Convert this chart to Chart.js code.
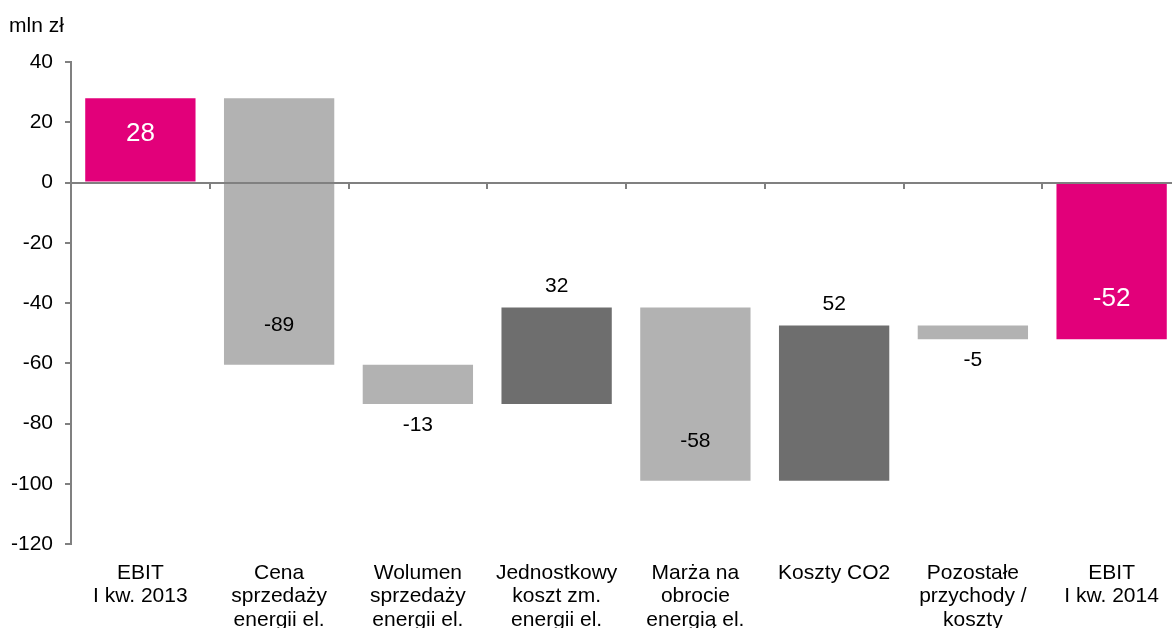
<!DOCTYPE html>
<html><head><meta charset="utf-8">
<script src="https://cdn.jsdelivr.net/npm/chart.js@4/dist/chart.umd.min.js"></script>
<style>
html,body{margin:0;padding:0;background:#fff;overflow:hidden}
#wrap{position:relative;width:1172px;height:628px;overflow:hidden}
canvas{display:block}
</style>
</head><body>
<div id="wrap"><canvas id="c" width="1181" height="628"></canvas></div>
<script>
// ---- data ----
const categories = [
  ["EBIT", "I kw. 2013"],
  ["Cena", "sprzedaży", "energii el."],
  ["Wolumen", "sprzedaży", "energii el."],
  ["Jednostkowy", "koszt zm.", "energii el."],
  ["Marża na", "obrocie", "energią el."],
  ["Koszty CO2"],
  ["Pozostałe", "przychody /", "koszty"],
  ["EBIT", "I kw. 2014"]
];
const barStart = [0, 28, -60.5, -73.5, -41.5, -99, -47.5, 0];
const barEnd   = [28, -60.5, -73.5, -41.5, -99, -47.5, -52, -52];
const valueLabels = ["28", "-89", "-13", "32", "-58", "52", "-5", "-52"];
const yTickValues = [40, 20, 0, -20, -40, -60, -80, -100, -120];
const unitLabel = "mln zł";

// ---- styles ----
const MAGENTA = "#E2007A", LIGHT = "#B2B2B2", DARK = "#6E6E6E", AXIS = "#808080";
const barColors = [MAGENTA, LIGHT, LIGHT, DARK, LIGHT, DARK, LIGHT, MAGENTA];
const labelPlacement = ["center", "insideBottom", "below", "above", "insideBottom", "above", "below", "insideBottom"];
const FONT = "'Liberation Sans', Arial, sans-serif";

const floating = barStart.map((s, i) => [s, barEnd[i]]);

const decorations = {
  id: "decorations",
  afterDatasetsDraw(chart) {
    const ctx = chart.ctx, y = chart.scales.y, ca = chart.chartArea;
    const y0 = Math.round(y.getPixelForValue(0));
    ctx.save();
    // zero line
    ctx.strokeStyle = AXIS; ctx.lineWidth = 2;
    ctx.beginPath(); ctx.moveTo(ca.left - 6, y0); ctx.lineTo(ca.right, y0); ctx.stroke();
    // category boundary ticks
    const step = (ca.right - ca.left) / categories.length;
    for (let i = 1; i < categories.length; i++) {
      const bx = Math.round(ca.left + step * i);
      ctx.beginPath(); ctx.moveTo(bx, y0); ctx.lineTo(bx, y0 + 6); ctx.stroke();
    }
    // value labels
    const meta = chart.getDatasetMeta(0);
    ctx.textAlign = "center"; ctx.textBaseline = "middle";
    meta.data.forEach((el, i) => {
      const top = Math.min(el.y, el.base), bottom = Math.max(el.y, el.base);
      let ly, color = "#000", size = 21;
      const mode = labelPlacement[i];
      if (mode === "center") { ly = (top + bottom) / 2 - 6; }
      else if (mode === "insideBottom") { ly = bottom - 40; }
      else if (mode === "above") { ly = top - 21; }
      else { ly = bottom + 21; }
      if (barColors[i] === MAGENTA) { color = "#fff"; size = 26; }
      ctx.fillStyle = color;
      ctx.font = size + "px " + FONT;
      ctx.fillText(valueLabels[i], el.x, ly);
    });
    // unit label
    ctx.textAlign = "left"; ctx.fillStyle = "#000";
    ctx.font = "21px " + FONT;
    ctx.fillText(unitLabel, 9, 26);
    ctx.restore();
  }
};

new Chart(document.getElementById("c"), {
  type: "bar",
  data: {
    labels: categories,
    datasets: [{
      data: floating,
      backgroundColor: barColors,
      borderWidth: 0,
      barPercentage: 0.795,
      categoryPercentage: 1
    }]
  },
  options: {
    responsive: false,
    animation: false,
    devicePixelRatio: 1,
    layout: { padding: { top: 62, right: 0, left: 0, bottom: 0 } },
    plugins: { legend: { display: false }, tooltip: { enabled: false } },
    scales: {
      x: {
        grid: { display: false },
        border: { display: false },
        ticks: {
          autoSkip: false, maxRotation: 0, minRotation: 0,
          color: "#000", padding: 9,
          font: { family: FONT, size: 21, lineHeight: "23.5px" }
        },
        afterFit(s) { s.height = 84; }
      },
      y: {
        min: -120, max: 40,
        afterBuildTicks(s) { s.ticks = yTickValues.map(v => ({ value: v })); },
        grid: { drawOnChartArea: false, drawTicks: true, tickLength: 6, color: AXIS, lineWidth: 2 },
        border: { display: true, color: AXIS, width: 2 },
        ticks: { color: "#000", padding: 12, font: { family: FONT, size: 21 } },
        afterFit(s) { s.width = 71; }
      }
    }
  },
  plugins: [decorations]
});
</script>
</body></html>
